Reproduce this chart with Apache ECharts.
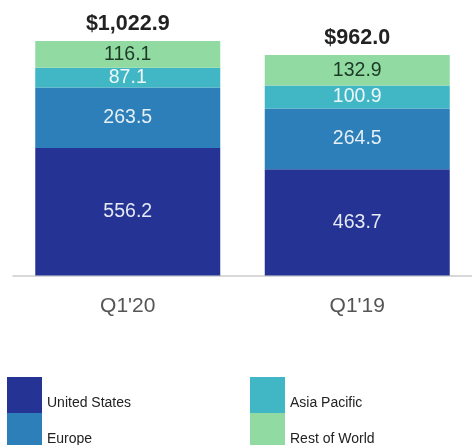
<!DOCTYPE html>
<html>
<head>
<meta charset="utf-8">
<script src="https://cdn.jsdelivr.net/npm/echarts@6/dist/echarts.min.js"></script>
<style>
  html, body { margin: 0; padding: 0; background: #fff; }
  #chart { width: 472px; height: 445px; }
</style>
</head>
<body>
<div id="chart"></div>
<script>
const quarters = ["Q1'20", "Q1'19"];
const unitedStates = [556.2, 463.7];
const europe = [263.5, 264.5];
const asiaPacific = [87.1, 100.9];
const restOfWorld = [116.1, 132.9];
const totals = ["$1,022.9", "$962.0"];

window.addEventListener("load", function () {
  const chart = echarts.init(document.getElementById("chart"));
  const font = "'Liberation Sans', Arial, sans-serif";

  function segment(name, data, color, textColor) {
    return {
      name: name,
      type: "bar",
      stack: "total",
      data: data,
      barWidth: 185,
      itemStyle: { color: color },
      label: {
        show: true,
        position: "inside",
        color: textColor,
        fontSize: 19.5,
        fontFamily: font,
        formatter: (p) => p.value.toFixed(1),
      },
    };
  }

  // one legend per entry so they can sit in a 2x2 block
  function legendItem(name, left, top) {
    return {
      data: [name],
      left: left,
      top: top,
      padding: 0,
      itemWidth: 35,
      itemHeight: 36,
      icon: "rect",
      selectedMode: false,
      formatter: "{t|{name}}",
      textStyle: {
        rich: {
          t: {
            fontSize: 14,
            color: "#222",
            fontFamily: font,
            padding: [16, 0, 0, 0],
          },
        },
      },
    };
  }

  let option = {
    animation: false,
    grid: { left: 13, right: 0, top: 0, bottom: 169.5 },
    legend: [
      legendItem("United States", 7, 377),
      legendItem("Europe", 7, 413),
      legendItem("Asia Pacific", 250, 377),
      legendItem("Rest of World", 250, 413),
    ],
    xAxis: {
      type: "category",
      data: quarters,
      axisLine: { lineStyle: { color: "#cccccc", width: 1.5 } },
      axisTick: { show: false },
      axisLabel: { fontSize: 21, color: "#555", margin: 20, fontFamily: font },
    },
    yAxis: {
      type: "value",
      min: 0,
      max: 1202,
      show: false,
      splitLine: { show: false },
    },
    series: [
      segment("United States", unitedStates, "#253494", "#e6eaf5"),
      segment("Europe", europe, "#2c7fb8", "#e6eef6"),
      segment("Asia Pacific", asiaPacific, "#41b6c4", "#eef8fa"),
      segment("Rest of World", restOfWorld, "#91dba2", "#1c3a26"),
      {
        name: "Total",
        type: "bar",
        stack: "total",
        data: [0, 0],
        barWidth: 185,
        itemStyle: { color: "transparent" },
        label: {
          show: true,
          position: "top",
          distance: 6,
          fontSize: 21.5,
          fontWeight: "bold",
          color: "#222",
          fontFamily: font,
          formatter: (p) => totals[p.dataIndex],
        },
      },
    ],
  };
  chart.setOption(option);
});
</script>
</body>
</html>
